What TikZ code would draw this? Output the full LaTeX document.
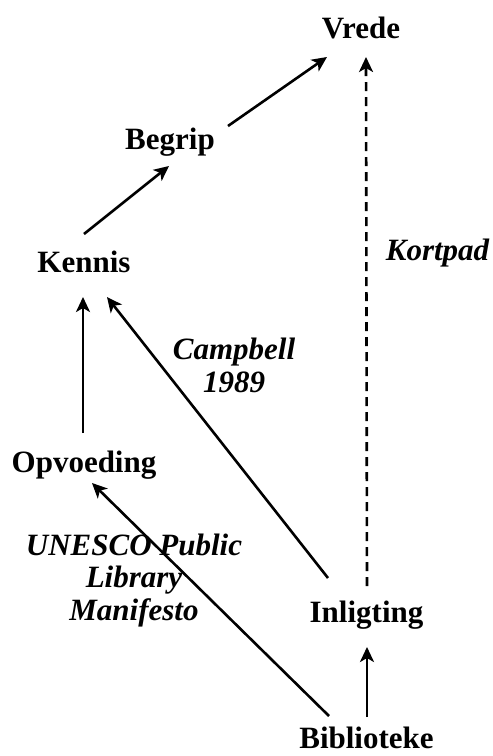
\documentclass[tikz,border=0pt]{standalone}
\usepackage{fontspec}
\setmainfont{Liberation Serif}
\usetikzlibrary{arrows.meta}

\begin{document}
\begin{tikzpicture}[x=1pt, y=-1pt,
    word/.style={font=\fontsize{31}{32.5}\selectfont\bfseries, inner sep=0pt, anchor=base},
    note/.style={font=\fontsize{31}{32.5}\selectfont\bfseries\itshape, inner sep=0pt, anchor=base, align=center},
    arr/.style={line width=2.6pt, -{Stealth[length=15pt, width=14pt, inset=4pt]}}]
  \useasboundingbox (0,0) rectangle (493,756);

  % concepts
  \node[word] (vrede) at (361,38) {Vrede};
  \node[word] (begrip) at (170,149) {Begrip};
  \node[word] (kennis) at (84,272) {Kennis};
  \node[word] (opvoeding) at (84,472) {Opvoeding};
  \node[word] (inligting) at (366.5,622) {Inligting};
  \node[word] (biblioteke) at (366.5,748) {Biblioteke};

  % sources (base = last line)
  \node[note] (kortpad) at (437.5,260) {Kortpad};
  \node[note] (campbell) at (234,392) {Campbell\\1989};
  \node[note] (unesco) at (134,620) {UNESCO Public\\Library\\Manifesto};

  \draw[arr] ([shift={(0,-38)}]kennis.base) -- ([shift={(-1,17)}]begrip.base);
  \draw[arr] ([shift={(58,-23)}]begrip.base) -- ([shift={(-34,19)}]vrede.base);
  \draw[arr] ([shift={(-1,-39)}]opvoeding.base) -- ([shift={(-1,25)}]kennis.base);
  \draw[arr] ([shift={(-38.5,-44)}]inligting.base) -- ([shift={(23,25)}]kennis.base);
  \draw[arr] ([shift={(-37.5,-32)}]biblioteke.base) -- ([shift={(8,11)}]opvoeding.base);
  \draw[arr] ([shift={(0.5,-31)}]biblioteke.base) -- ([shift={(0.5,25)}]inligting.base);
  \draw[arr, dash pattern=on 9pt off 6pt] ([shift={(0.5,-36)}]inligting.base) -- ([shift={(5,19)}]vrede.base);
\end{tikzpicture}
\end{document}
